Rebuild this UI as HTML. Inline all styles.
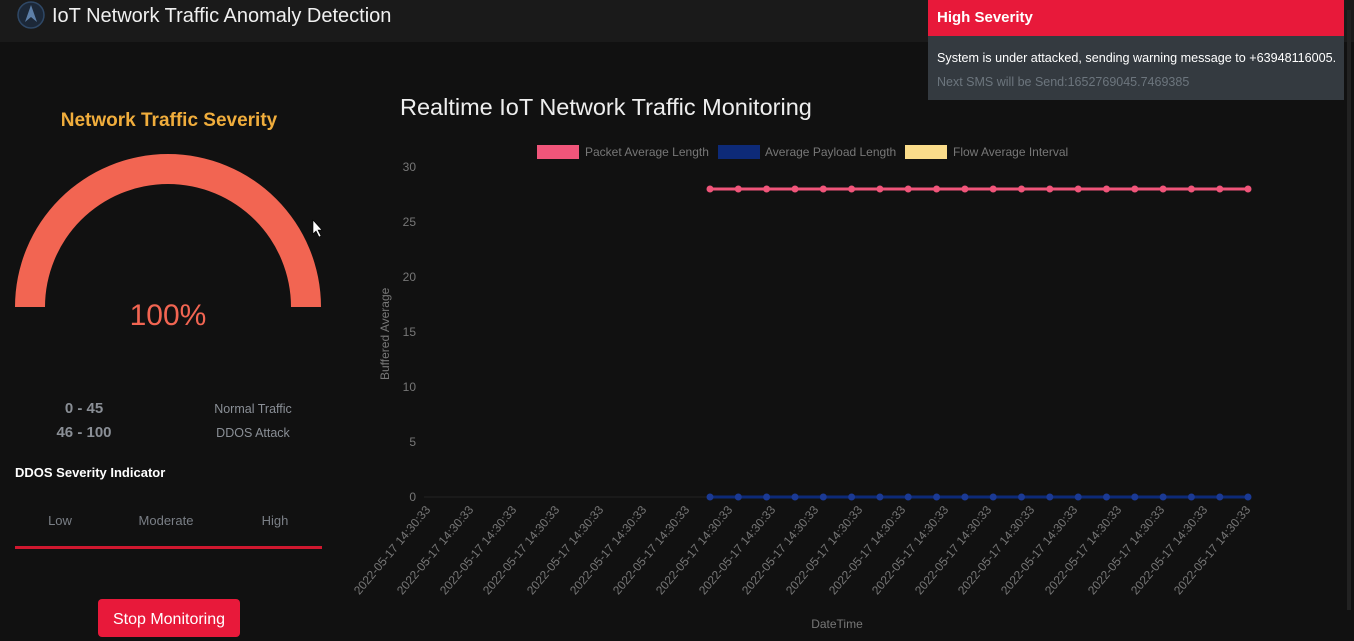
<!DOCTYPE html>
<html><head><meta charset="utf-8"><style>
body{margin:0;width:1354px;height:641px;background:#111;overflow:hidden;font-family:"Liberation Sans",sans-serif}
</style></head><body>
<svg width="1354" height="641" xmlns="http://www.w3.org/2000/svg" style="position:absolute;left:0;top:0">
<rect width="1354" height="641" fill="#111"/>
<rect width="1354" height="42" fill="#1a1a1a"/>
<circle cx="31" cy="15" r="13" fill="#1c2838" stroke="#2f4866" stroke-width="1.5"/>
<path d="M31,5 L25,22 L31,17 L37,22 Z" fill="#5d7fa8"/>
<text x="52" y="22" fill="#f0f0f0" font-size="20">IoT Network Traffic Anomaly Detection</text>

<text x="169" y="126" fill="#f0ad3c" font-size="19" font-weight="bold" text-anchor="middle">Network Traffic Severity</text>
<path d="M15,307 A153,153 0 0 1 321,307 L291,307 A123,123 0 0 0 45,307 Z" fill="#f26552"/>
<text x="168" y="325" fill="#f26552" font-size="30" text-anchor="middle">100%</text>
<path d="M313,220 L313,234 L316,231 L319,237 L321,236 L318,230 L322,230 Z" fill="#fff" stroke="#000" stroke-width="0.6"/>
<text x="84" y="413" fill="#8a8f96" font-size="15" font-weight="bold" text-anchor="middle">0 - 45</text>
<text x="84" y="437" fill="#8a8f96" font-size="15" font-weight="bold" text-anchor="middle">46 - 100</text>
<text x="253" y="413" fill="#8a8f96" font-size="12.5" text-anchor="middle">Normal Traffic</text>
<text x="253" y="437" fill="#8a8f96" font-size="12.5" text-anchor="middle">DDOS Attack</text>
<text x="15" y="477" fill="#fff" font-size="13" font-weight="bold">DDOS Severity Indicator</text>
<text x="60" y="525" fill="#7a7f86" font-size="13" text-anchor="middle">Low</text>
<text x="166" y="525" fill="#7a7f86" font-size="13" text-anchor="middle">Moderate</text>
<text x="275" y="525" fill="#7a7f86" font-size="13" text-anchor="middle">High</text>
<rect x="15" y="546" width="307" height="3" fill="#d0182f"/>
<rect x="98" y="599" width="142" height="38" rx="4" fill="#e8193a"/>
<text x="169" y="624" fill="#fff" font-size="16" text-anchor="middle">Stop Monitoring</text>

<text x="400" y="115" fill="#eee" font-size="23.5">Realtime IoT Network Traffic Monitoring</text>
<rect x="537" y="145" width="42" height="14" fill="#f0557a"/>
<text x="585" y="156" fill="#777" font-size="12">Packet Average Length</text>
<rect x="718" y="145" width="42" height="14" fill="#0d2a78"/>
<text x="765" y="156" fill="#777" font-size="12">Average Payload Length</text>
<rect x="905" y="145" width="42" height="14" fill="#fadc8a"/>
<text x="953" y="156" fill="#777" font-size="12">Flow Average Interval</text>
<g fill="#777" font-size="12" text-anchor="end">
<text x="416" y="171">30</text><text x="416" y="226">25</text><text x="416" y="281">20</text><text x="416" y="336">15</text><text x="416" y="391">10</text><text x="416" y="446">5</text><text x="416" y="501">0</text>
</g>
<line x1="424" y1="497" x2="1250" y2="497" stroke="#222" stroke-width="1"/>
<text transform="translate(389,380) rotate(-90)" fill="#777" font-size="12">Buffered Average</text>
<text x="837" y="628" fill="#777" font-size="12" text-anchor="middle">DateTime</text>
<line x1="710" y1="189" x2="1248" y2="189" stroke="#f0557a" stroke-width="3"/>
<line x1="710" y1="497" x2="1248" y2="497" stroke="#0d2a78" stroke-width="3"/>
<g fill="#f0557a">
<circle cx="710" cy="189" r="3.5"/><circle cx="738.3" cy="189" r="3.5"/><circle cx="766.6" cy="189" r="3.5"/><circle cx="795" cy="189" r="3.5"/><circle cx="823.3" cy="189" r="3.5"/><circle cx="851.6" cy="189" r="3.5"/><circle cx="879.9" cy="189" r="3.5"/><circle cx="908.2" cy="189" r="3.5"/><circle cx="936.6" cy="189" r="3.5"/><circle cx="964.9" cy="189" r="3.5"/><circle cx="993.2" cy="189" r="3.5"/><circle cx="1021.5" cy="189" r="3.5"/><circle cx="1049.8" cy="189" r="3.5"/><circle cx="1078.2" cy="189" r="3.5"/><circle cx="1106.5" cy="189" r="3.5"/><circle cx="1134.8" cy="189" r="3.5"/><circle cx="1163.1" cy="189" r="3.5"/><circle cx="1191.4" cy="189" r="3.5"/><circle cx="1219.8" cy="189" r="3.5"/><circle cx="1248" cy="189" r="3.5"/>
</g>
<g fill="#1b3a94">
<circle cx="710" cy="497" r="3.5"/><circle cx="738.3" cy="497" r="3.5"/><circle cx="766.6" cy="497" r="3.5"/><circle cx="795" cy="497" r="3.5"/><circle cx="823.3" cy="497" r="3.5"/><circle cx="851.6" cy="497" r="3.5"/><circle cx="879.9" cy="497" r="3.5"/><circle cx="908.2" cy="497" r="3.5"/><circle cx="936.6" cy="497" r="3.5"/><circle cx="964.9" cy="497" r="3.5"/><circle cx="993.2" cy="497" r="3.5"/><circle cx="1021.5" cy="497" r="3.5"/><circle cx="1049.8" cy="497" r="3.5"/><circle cx="1078.2" cy="497" r="3.5"/><circle cx="1106.5" cy="497" r="3.5"/><circle cx="1134.8" cy="497" r="3.5"/><circle cx="1163.1" cy="497" r="3.5"/><circle cx="1191.4" cy="497" r="3.5"/><circle cx="1219.8" cy="497" r="3.5"/><circle cx="1248" cy="497" r="3.5"/>
</g>
<g fill="#777" font-size="12" text-anchor="end">
<text transform="translate(431,510) rotate(-50)">2022-05-17 14:30:33</text>
<text transform="translate(474,510) rotate(-50)">2022-05-17 14:30:33</text>
<text transform="translate(517,510) rotate(-50)">2022-05-17 14:30:33</text>
<text transform="translate(560,510) rotate(-50)">2022-05-17 14:30:33</text>
<text transform="translate(604,510) rotate(-50)">2022-05-17 14:30:33</text>
<text transform="translate(647,510) rotate(-50)">2022-05-17 14:30:33</text>
<text transform="translate(690,510) rotate(-50)">2022-05-17 14:30:33</text>
<text transform="translate(733,510) rotate(-50)">2022-05-17 14:30:33</text>
<text transform="translate(776,510) rotate(-50)">2022-05-17 14:30:33</text>
<text transform="translate(819,510) rotate(-50)">2022-05-17 14:30:33</text>
<text transform="translate(863,510) rotate(-50)">2022-05-17 14:30:33</text>
<text transform="translate(906,510) rotate(-50)">2022-05-17 14:30:33</text>
<text transform="translate(949,510) rotate(-50)">2022-05-17 14:30:33</text>
<text transform="translate(992,510) rotate(-50)">2022-05-17 14:30:33</text>
<text transform="translate(1035,510) rotate(-50)">2022-05-17 14:30:33</text>
<text transform="translate(1078,510) rotate(-50)">2022-05-17 14:30:33</text>
<text transform="translate(1122,510) rotate(-50)">2022-05-17 14:30:33</text>
<text transform="translate(1165,510) rotate(-50)">2022-05-17 14:30:33</text>
<text transform="translate(1208,510) rotate(-50)">2022-05-17 14:30:33</text>
<text transform="translate(1251,510) rotate(-50)">2022-05-17 14:30:33</text>
</g>

<rect x="928" y="0" width="416" height="36" fill="#e8193a"/>
<rect x="928" y="36" width="416" height="64" fill="#343a40"/>
<text x="937" y="22" fill="#fff" font-size="15" font-weight="bold">High Severity</text>
<text x="937" y="62" fill="#fff" font-size="12.6">System is under attacked, sending warning message to +63948116005.</text>
<text x="937" y="86" fill="#6c757d" font-size="12.5">Next SMS will be Send:1652769045.7469385</text>
<rect x="1347" y="10" width="4" height="600" fill="#222"/>
</svg>
</body></html>
